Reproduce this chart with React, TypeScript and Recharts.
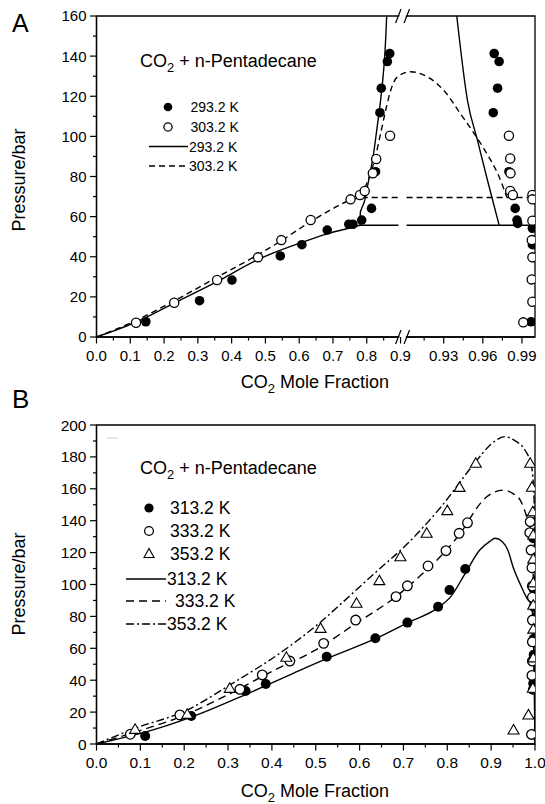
import React from 'react';
import { ComposedChart, XAxis, YAxis, Line, Scatter, ReferenceArea, ReferenceDot } from 'recharts';

type P = [number, number];
const FF = '"Liberation Sans", Arial, Helvetica, sans-serif';

// ---------- Panel A (broken x axis) ----------
const A_X_MAJOR = [0, 0.1, 0.2, 0.3, 0.4, 0.5, 0.6, 0.7, 0.8, 0.9, 0.93, 0.96, 0.99];
const A_X_LABELS = ['0.0', '0.1', '0.2', '0.3', '0.4', '0.5', '0.6', '0.7', '0.8', '0.9', '0.93', '0.96', '0.99'];
const A_X_MINOR = [0.05, 0.15, 0.25, 0.35, 0.45, 0.55, 0.65, 0.75, 0.85, 0.915, 0.945, 0.975];
const A_Y_MAJOR = [0, 20, 40, 60, 80, 100, 120, 140, 160];
const A_Y_MINOR = [10, 30, 50, 70, 90, 110, 130, 150];

const A_PTS_293: P[] = [
  [0.146, 7.6], [0.305, 18.1], [0.401, 28.4], [0.544, 40.4], [0.608, 46.0], [0.683, 53.3],
  [0.747, 56.2], [0.759, 56.2], [0.785, 58.3], [0.814, 64.1], [0.826, 82.4], [0.839, 111.8],
  [0.843, 124.0], [0.861, 137.3], [0.868, 141.3],
  [0.9687, 141.3], [0.9725, 137.3], [0.9713, 124.0], [0.968, 111.8], [0.980, 82.4],
  [0.9848, 64.1], [0.9862, 58.3], [0.9867, 56.6], [0.998, 54.2], [0.998, 46.0], [0.997, 7.6],
];
const A_PTS_303: P[] = [
  [0.117, 7.1], [0.230, 17.1], [0.357, 28.4], [0.478, 39.7], [0.547, 48.3], [0.634, 58.3],
  [0.752, 68.6], [0.780, 70.8], [0.794, 72.8], [0.818, 81.6], [0.828, 88.7], [0.869, 100.3],
  [0.980, 100.3], [0.981, 89.0], [0.9812, 81.6], [0.981, 72.8], [0.983, 70.8], [0.998, 70.8],
  [0.998, 68.6], [0.998, 58.0], [0.9975, 48.3], [0.998, 39.7], [0.9975, 28.7], [0.998, 17.6],
  [0.991, 7.3],
];
const A_LINE_293_VLE: P[] = [
  [0, 0], [0.06, 3.6], [0.119, 7.6], [0.228, 16.8], [0.357, 27.6], [0.475, 38.4],
  [0.614, 47.5], [0.69, 51.8], [0.732, 53.6], [0.78, 55.7],
];
const A_LINE_293_LL: P[] = [
  [0.78, 55.7], [0.781, 62], [0.786, 64.5], [0.792, 67], [0.802, 75], [0.817, 88],
  [0.831, 105], [0.841, 118], [0.851, 135], [0.859, 160],
];
const A_LINE_293_RIGHT: P[] = [[0.94, 160], [0.9482, 118], [0.9559, 98], [0.9636, 78], [0.9725, 55.7]];
const A_LINE_293_TP_L: P[] = [[0.78, 55.7], [0.894, 55.7]];
const A_LINE_293_TP_R: P[] = [[0.9015, 55.7], [0.997, 55.7]];

const A_LINE_303_VLE: P[] = [
  [0, 0], [0.06, 4], [0.117, 8.3], [0.23, 18], [0.357, 29.8], [0.478, 41], [0.547, 48],
  [0.634, 57.5], [0.7, 64], [0.752, 68.3], [0.785, 69.5],
];
const A_LINE_303_LL: P[] = [
  [0.785, 69.5], [0.792, 73], [0.808, 80], [0.826, 90], [0.841, 101.5], [0.856, 113],
  [0.871, 123], [0.891, 129.7], [0.9046, 132.2], [0.9174, 129.7], [0.93, 123], [0.9431, 111],
  [0.9533, 101.5], [0.9636, 90.8], [0.9713, 81.6], [0.9785, 69.5],
];
const A_LINE_303_TP_L: P[] = [[0.785, 69.5], [0.894, 69.5]];
const A_LINE_303_TP_R: P[] = [[0.9015, 69.5], [0.998, 69.5]];

// ---------- Panel B ----------
const B_X_MAJOR = [0, 0.1, 0.2, 0.3, 0.4, 0.5, 0.6, 0.7, 0.8, 0.9, 1.0];
const B_X_LABELS = ['0.0', '0.1', '0.2', '0.3', '0.4', '0.5', '0.6', '0.7', '0.8', '0.9', '1.0'];
const B_X_MINOR = [0.05, 0.15, 0.25, 0.35, 0.45, 0.55, 0.65, 0.75, 0.85, 0.95];
const B_Y_MAJOR = [0, 20, 40, 60, 80, 100, 120, 140, 160, 180, 200];
const B_Y_MINOR = [10, 30, 50, 70, 90, 110, 130, 150, 170, 190];

const B_PTS_313: P[] = [
  [0.111, 5], [0.216, 17.6], [0.340, 33.2], [0.386, 37.6], [0.525, 54.7], [0.636, 66.3],
  [0.709, 76.1], [0.779, 86.1], [0.805, 96.6], [0.841, 109.7],
  [0.996, 129], [0.996, 112], [0.997, 97], [0.997, 86], [0.997, 66], [0.997, 56],
  [0.996, 38], [0.995, 34], [0.996, 6],
];
const B_PTS_333: P[] = [
  [0.077, 6.1], [0.190, 18.2], [0.327, 34.3], [0.378, 43.3], [0.441, 52.0], [0.518, 63.1],
  [0.591, 77.7], [0.683, 92.4], [0.709, 99.2], [0.756, 111.6], [0.797, 121.2], [0.827, 132.1],
  [0.846, 138.7],
  [0.989, 139.4], [0.988, 132.5], [0.991, 121.6], [0.993, 110.5], [0.994, 99], [0.994, 92],
  [0.994, 77.7], [0.994, 64], [0.994, 52], [0.993, 43], [0.992, 6],
];
const B_PTS_353: P[] = [
  [0.088, 9.2], [0.207, 18.6], [0.304, 34.9], [0.433, 54.4], [0.511, 72.5], [0.593, 88.2],
  [0.645, 102.4], [0.693, 117.4], [0.753, 132.1], [0.800, 146.3], [0.828, 160.9], [0.865, 176],
  [0.989, 176], [0.993, 161], [0.995, 145.6], [0.996, 131], [0.996, 116], [0.996, 101],
  [0.996, 87], [0.996, 72], [0.996, 54], [0.995, 35], [0.985, 18.2], [0.951, 8.8],
];
const B_LINE_313: P[] = [
  [0, 0], [0.05, 3.2], [0.111, 7.4], [0.216, 16.8], [0.34, 31], [0.45, 44.5], [0.525, 53.5],
  [0.636, 66], [0.709, 76], [0.779, 85.5], [0.808, 92.4], [0.841, 107], [0.874, 121.6],
  [0.897, 127], [0.909, 129], [0.925, 127], [0.938, 121.6], [0.95, 111], [0.969, 98.6],
  [0.984, 90.3], [0.992, 87.5], [0.997, 60], [1.0, 0],
];
const B_LINE_333: P[] = [
  [0, 0], [0.077, 6.5], [0.2, 18], [0.3, 31], [0.4, 45.5], [0.5, 59], [0.591, 75.5],
  [0.683, 92.4], [0.756, 110], [0.797, 121.2], [0.846, 138.7], [0.859, 144.6], [0.89, 155],
  [0.928, 159.2], [0.95, 157], [0.966, 153], [0.981, 142.5], [0.992, 130], [0.997, 90], [1.0, 0],
];
const B_LINE_353: P[] = [
  [0, 0], [0.088, 9.8], [0.207, 21.3], [0.304, 37], [0.434, 60], [0.512, 76.7], [0.558, 88],
  [0.634, 107], [0.71, 125.8], [0.786, 148.8], [0.862, 176], [0.9, 188], [0.931, 192.7],
  [0.955, 190], [0.977, 184.3], [0.992, 174], [0.998, 153], [1.0, 0],
];

// ---------- helpers ----------
const BREAK = 0.9;
const GAP = 0.012;
const K = 3.86;
const tA = (x: number) => (x <= BREAK ? x : BREAK + GAP + (x - BREAK) * K);
const XMAX_A = tA(1.0);
const BREAK_MID = BREAK + GAP / 2;

const toData = (pts: P[], f: (x: number) => number = (x) => x) => pts.map(([x, y]) => ({ x: f(x), y }));

const mkTickX = (labels: { v: number; label: string }[], fontSize: number) => (props: any) => {
  const { x, y, payload } = props;
  const hit = labels.find((l) => Math.abs(l.v - payload.value) < 1e-9);
  return (
    <g>
      <line x1={x} x2={x} y1={y} y2={y + (hit ? 6.5 : 3.5)} stroke="#000" strokeWidth={1.2} />
      {hit && (
        <text x={x} y={y + 24} textAnchor="middle" fontSize={fontSize} fontFamily={FF} fill="#000">
          {hit.label}
        </text>
      )}
    </g>
  );
};

const mkTickY = (majors: number[], fontSize: number) => (props: any) => {
  const { x, y, payload } = props;
  const major = majors.includes(payload.value);
  return (
    <g>
      <line x1={x} x2={x - (major ? 6.5 : 3.5)} y1={y} y2={y} stroke="#000" strokeWidth={1.2} />
      {major && (
        <text x={x - 10} y={y} dy="0.36em" textAnchor="end" fontSize={fontSize} fontFamily={FF} fill="#000">
          {payload.value}
        </text>
      )}
    </g>
  );
};

const FilledCircle = (r: number) => (p: any) => <circle cx={p.cx} cy={p.cy} r={r} fill="#000" />;
const OpenCircle = (r: number) => (p: any) => (
  <circle cx={p.cx} cy={p.cy} r={r} fill="#fff" stroke="#000" strokeWidth={1.3} />
);
const OpenTriangle = (p: any) => (
  <polygon
    points={`${p.cx},${p.cy - 5.5} ${p.cx - 5.5},${p.cy + 4} ${p.cx + 5.5},${p.cy + 4}`}
    fill="#fff"
    stroke="#000"
    strokeWidth={1.1}
  />
);

const BreakMark = (p: any) => {
  const cx = p.cx;
  const cy = p.cy;
  return (
    <g>
      <polygon points={`${cx - 6},${cy + 7} ${cx - 0.5},${cy - 7} ${cx + 6},${cy - 7} ${cx + 0.5},${cy + 7}`} fill="#fff" />
      <line x1={cx - 7} y1={cy + 7} x2={cx - 1.5} y2={cy - 7} stroke="#000" strokeWidth={1.2} />
      <line x1={cx + 1.5} y1={cy + 7} x2={cx + 7} y2={cy - 7} stroke="#000" strokeWidth={1.2} />
    </g>
  );
};

const lineEl = (key: string, pts: P[], type: any, dash?: string, f?: (x: number) => number) => (
  <Line
    key={key}
    data={toData(pts, f)}
    dataKey="y"
    type={type}
    stroke="#000"
    strokeWidth={1.4}
    strokeDasharray={dash}
    dot={false}
    activeDot={false}
    isAnimationActive={false}
    legendType="none"
  />
);

const ticksAX = [...A_X_MAJOR, ...A_X_MINOR].map(tA).sort((a, b) => a - b);
const labelsAX = A_X_MAJOR.map((v, i) => ({ v: tA(v), label: A_X_LABELS[i] }));
const ticksBX = [...B_X_MAJOR, ...B_X_MINOR].sort((a, b) => a - b);
const labelsBX = B_X_MAJOR.map((v, i) => ({ v, label: B_X_LABELS[i] }));

const Sub2 = ({ x, y, size, text }: { x: number; y: number; size: number; text: string }) => (
  <text x={x} y={y} fontSize={size} fontFamily={FF} fill="#000">
    CO
    <tspan fontSize={size * 0.72} dy={size * 0.3}>2</tspan>
    <tspan dy={-size * 0.3}>{text}</tspan>
  </text>
);

export default function App() {
  const D = '6 4';
  const DB = '8 5';
  const DD = '8 3 2 3';
  return (
    <div style={{ position: 'absolute', left: 0, top: 0, width: 545, height: 804, background: '#fff' }}>
      <div style={{ position: 'absolute', left: 0, top: 0 }}>
        <ComposedChart width={545} height={390} margin={{ top: 16, right: 10, left: 0, bottom: 0 }}>
          <XAxis
            type="number"
            dataKey="x"
            domain={[0, XMAX_A]}
            allowDataOverflow
            ticks={ticksAX}
            interval={0}
            tickSize={0}
            tickMargin={0}
            tickLine={false}
            tick={mkTickX(labelsAX, 15)}
            axisLine={{ stroke: '#000', strokeWidth: 1.3 }}
            height={53}
          />
          <YAxis
            type="number"
            dataKey="y"
            domain={[0, 160]}
            allowDataOverflow
            ticks={[...A_Y_MAJOR, ...A_Y_MINOR].sort((a, b) => a - b)}
            interval={0}
            tickSize={0}
            tickMargin={0}
            tickLine={false}
            tick={mkTickY(A_Y_MAJOR, 15)}
            axisLine={{ stroke: '#000', strokeWidth: 1.3 }}
            width={96.5}
          />
          <ReferenceArea x1={0} x2={XMAX_A} y1={0} y2={160} fill="none" stroke="#000" strokeWidth={1.3} ifOverflow="visible" />
          <Scatter data={toData(A_PTS_293, tA)} shape={FilledCircle(4.8)} isAnimationActive={false} legendType="none" />
          <Scatter data={toData(A_PTS_303, tA)} shape={OpenCircle(4.6)} isAnimationActive={false} legendType="none" />
          {lineEl('a1', A_LINE_293_VLE, 'monotoneX', undefined, tA)}
          {lineEl('a2', A_LINE_293_LL, 'monotoneY', undefined, tA)}
          {lineEl('a3', A_LINE_293_RIGHT, 'monotoneX', undefined, tA)}
          {lineEl('a4', A_LINE_293_TP_L, 'linear', undefined, tA)}
          {lineEl('a5', A_LINE_293_TP_R, 'linear', undefined, tA)}
          {lineEl('a6', A_LINE_303_VLE, 'monotoneX', D, tA)}
          {lineEl('a7', A_LINE_303_LL, 'monotoneX', D, tA)}
          {lineEl('a8', A_LINE_303_TP_L, 'linear', D, tA)}
          {lineEl('a9', A_LINE_303_TP_R, 'linear', D, tA)}
          <ReferenceDot x={BREAK_MID} y={0} r={0} shape={BreakMark} ifOverflow="visible" />
          <ReferenceDot x={BREAK_MID} y={160} r={0} shape={BreakMark} ifOverflow="visible" />
        </ComposedChart>
      </div>
      <div style={{ position: 'absolute', left: 0, top: 390 }}>
        <ComposedChart width={545} height={414} margin={{ top: 35, right: 10, left: 0, bottom: 0 }}>
          <XAxis
            type="number"
            dataKey="x"
            domain={[0, 1]}
            allowDataOverflow
            ticks={ticksBX}
            interval={0}
            tickSize={0}
            tickMargin={0}
            tickLine={false}
            tick={mkTickX(labelsBX, 15.5)}
            axisLine={{ stroke: '#000', strokeWidth: 1.3 }}
            height={60}
          />
          <YAxis
            type="number"
            dataKey="y"
            domain={[0, 200]}
            allowDataOverflow
            ticks={[...B_Y_MAJOR, ...B_Y_MINOR].sort((a, b) => a - b)}
            interval={0}
            tickSize={0}
            tickMargin={0}
            tickLine={false}
            tick={mkTickY(B_Y_MAJOR, 15.5)}
            axisLine={{ stroke: '#000', strokeWidth: 1.3 }}
            width={96.5}
          />
          <ReferenceArea x1={0} x2={1} y1={0} y2={200} fill="none" stroke="#000" strokeWidth={1.3} ifOverflow="visible" />
          <Scatter data={toData(B_PTS_313)} shape={FilledCircle(5)} isAnimationActive={false} legendType="none" />
          <Scatter data={toData(B_PTS_333)} shape={OpenCircle(4.8)} isAnimationActive={false} legendType="none" />
          <Scatter data={toData(B_PTS_353)} shape={OpenTriangle} isAnimationActive={false} legendType="none" />
          {lineEl('b1', B_LINE_313, 'monotoneX')}
          {lineEl('b2', B_LINE_333, 'monotoneX', DB)}
          {lineEl('b3', B_LINE_353, 'monotoneX', DD)}
        </ComposedChart>
      </div>
      <svg
        width={545}
        height={804}
        style={{ position: 'absolute', left: 0, top: 0, pointerEvents: 'none' }}
      >
        {/* Panel letters */}
        <text x={12} y={32} fontSize={25} fontFamily={FF}>A</text>
        <text x={12} y={408} fontSize={26} fontFamily={FF}>B</text>

        {/* Axis titles A */}
        <text x={25} y={180} fontSize={18} fontFamily={FF} textAnchor="middle" transform="rotate(-90 25 180)">
          Pressure/bar
        </text>
        <text x={315} y={388} fontSize={18} fontFamily={FF} textAnchor="middle">
          CO<tspan fontSize={13} dy={5}>2</tspan><tspan dy={-5}> Mole Fraction</tspan>
        </text>
        {/* Axis titles B */}
        <text x={25} y={584} fontSize={18} fontFamily={FF} textAnchor="middle" transform="rotate(-90 25 584)">
          Pressure/bar
        </text>
        <text x={315} y={797} fontSize={18} fontFamily={FF} textAnchor="middle">
          CO<tspan fontSize={13} dy={5}>2</tspan><tspan dy={-5}> Mole Fraction</tspan>
        </text>

        {/* Legend A */}
        <Sub2 x={140} y={67} size={18} text=" + n-Pentadecane" />
        <circle cx={168} cy={107} r={4.3} fill="#000" />
        <text x={190.5} y={112} fontSize={14} fontFamily={FF}>293.2 K</text>
        <circle cx={168} cy={127} r={4.1} fill="#fff" stroke="#000" strokeWidth={1.3} />
        <text x={190.5} y={132} fontSize={14} fontFamily={FF}>303.2 K</text>
        <line x1={149} x2={188} y1={146.5} y2={146.5} stroke="#000" strokeWidth={1.4} />
        <text x={189} y={151.5} fontSize={14} fontFamily={FF}>293.2 K</text>
        <line x1={149} x2={188} y1={166} y2={166} stroke="#000" strokeWidth={1.4} strokeDasharray="6 4" />
        <text x={189} y={171} fontSize={14} fontFamily={FF}>303.2 K</text>

        {/* Legend B */}
        <line x1={107} x2={118} y1={438} y2={438} stroke="#cfcfcf" strokeWidth={1} />
        <Sub2 x={140} y={474} size={18} text=" + n-Pentadecane" />
        <circle cx={149} cy={508} r={4.6} fill="#000" />
        <text x={170} y={514} fontSize={17.5} fontFamily={FF}>313.2 K</text>
        <circle cx={149} cy={531} r={4.4} fill="#fff" stroke="#000" strokeWidth={1.3} />
        <text x={170} y={537} fontSize={17.5} fontFamily={FF}>333.2 K</text>
        <polygon points="149,548.5 144,557.5 154,557.5" fill="#fff" stroke="#000" strokeWidth={1.1} />
        <text x={170} y={559.5} fontSize={17.5} fontFamily={FF}>353.2 K</text>
        <line x1={126} x2={166} y1={579} y2={579} stroke="#000" strokeWidth={1.4} />
        <text x={167} y={585} fontSize={17.5} fontFamily={FF}>313.2 K</text>
        <line x1={126} x2={166} y1={601} y2={601} stroke="#000" strokeWidth={1.4} strokeDasharray="8 5" />
        <text x={175} y={607} fontSize={17.5} fontFamily={FF}>333.2 K</text>
        <line x1={126} x2={166} y1={624} y2={624} stroke="#000" strokeWidth={1.4} strokeDasharray="8 3 2 3" />
        <text x={167} y={630} fontSize={17.5} fontFamily={FF}>353.2 K</text>
      </svg>
    </div>
  );
}
